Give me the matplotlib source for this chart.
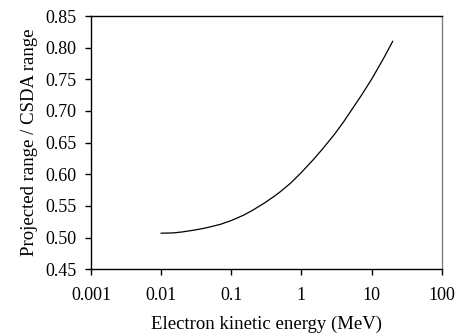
import matplotlib
matplotlib.use("Agg")
import matplotlib.pyplot as plt

energy_mev = [0.01, 0.015, 0.02, 0.03, 0.04, 0.05, 0.07, 0.1, 0.15, 0.2, 0.3, 0.4, 0.5,
              0.7, 1, 1.5, 2, 3, 4, 5, 7, 10, 15, 20]
range_ratio = [0.507, 0.5075, 0.509, 0.512, 0.5145, 0.517, 0.521, 0.527, 0.5355, 0.543,
               0.555, 0.5645, 0.5725, 0.586, 0.603, 0.624, 0.640, 0.664, 0.683, 0.699,
               0.723, 0.750, 0.784, 0.810]
x_ticks = [0.001, 0.01, 0.1, 1, 10, 100]
x_tick_labels = ["0.001", "0.01", "0.1", "1", "10", "100"]
y_ticks = [0.45, 0.50, 0.55, 0.60, 0.65, 0.70, 0.75, 0.80, 0.85]

plt.rcParams['font.family'] = ['Liberation Serif', 'DejaVu Serif']
fig = plt.figure(figsize=(4.59, 3.36), dpi=100)
ax = fig.add_axes([91/459, 1-269.3/336, (441.7-91)/459, (269.3-16)/336])
ax.plot(energy_mev, range_ratio, color='black', lw=0.9)
ax.set_xscale('log')
ax.set_xlim(0.001, 100)
ax.set_ylim(0.45, 0.85)
ax.set_xticks(x_ticks)
ax.set_xticklabels(x_tick_labels)
ax.set_yticks(y_ticks)
ax.set_yticklabels([f"{v:.2f}" for v in y_ticks])
ax.minorticks_off()
ax.tick_params(axis='both', direction='out', length=4.5, width=1, labelsize=13, pad=6)
ax.tick_params(axis='x', pad=8)
ax.tick_params(top=False, right=False)
for s in ['left', 'bottom', 'top']:
    ax.spines[s].set_linewidth(1)
    ax.spines[s].set_color('black')
ax.spines['right'].set_color('#808080')
ax.spines['right'].set_linewidth(1)
ax.set_xlabel('Electron kinetic energy (MeV)', fontsize=13.5, labelpad=9)
ax.set_ylabel('Projected range / CSDA range', fontsize=13.5, labelpad=5)
fig.savefig('out.png', dpi=100)
